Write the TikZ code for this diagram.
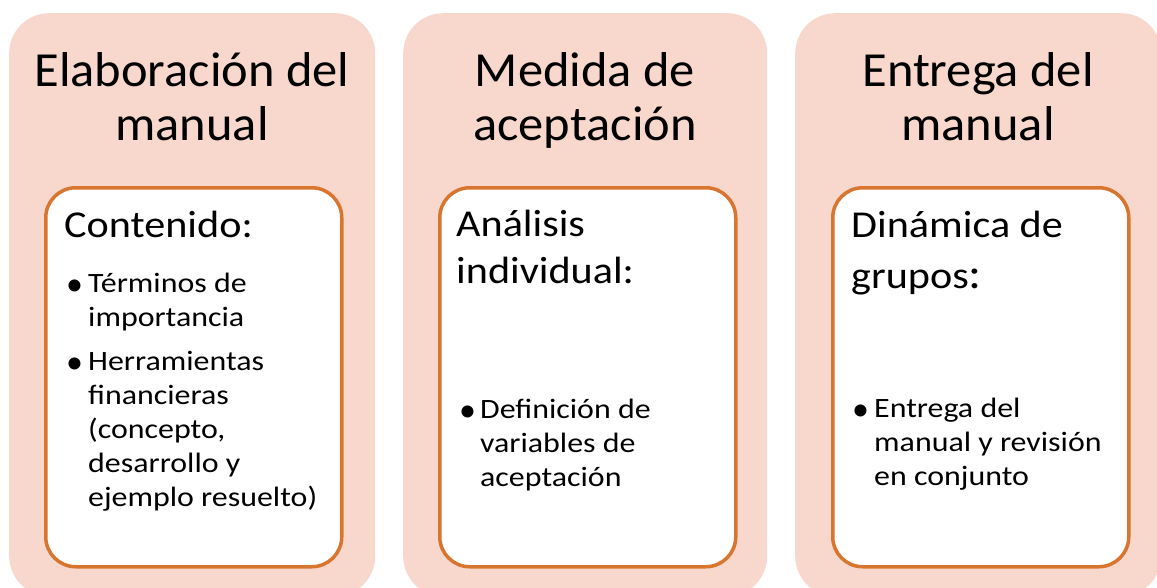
\documentclass[tikz,border=0pt]{standalone}
\usepackage{fontspec}
\setmainfont{Carlito}
\newfontfamily\titlefont[FakeStretch=1.03]{Carlito}
\newfontfamily\headfont[FakeStretch=1.11]{Carlito}
\newfontfamily\itemfont[FakeStretch=1.14]{Carlito}
\definecolor{pinkfill}{HTML}{F8D7CD}
\definecolor{orangeline}{HTML}{D8752F}
\tikzset{
  outerbox/.style={fill=pinkfill, draw=none, rounded corners=40pt, anchor=north west, inner sep=0pt},
  innerbox/.style={fill=white, draw=orangeline, line width=3.5pt, rounded corners=30pt, anchor=north west, inner sep=0pt, minimum width=296pt, minimum height=379pt},
  titletext/.style={anchor=base, inner sep=0pt, font=\titlefont\fontsize{49}{54}\selectfont},
  headtext/.style={anchor=base west, inner sep=0pt, font=\headfont\fontsize{38}{47}\selectfont},
  bullettext/.style={anchor=base west, inner sep=0pt, font=\itemfont\fontsize{28}{34}\selectfont},
  bulletdot/.style={anchor=base west, inner sep=0pt, font=\fontsize{34}{34}\selectfont},
}
\begin{document}
\begin{tikzpicture}[x=1pt,y=-1pt]
\useasboundingbox (0,0) rectangle (1157,587);
\clip (0,0) rectangle (1157,587);
% outer boxes
\node[outerbox, minimum width=366pt, minimum height=583pt] (o1) at (9,13) {};
\node[outerbox, minimum width=364pt, minimum height=583pt] (o2) at (403,13) {};
\node[outerbox, minimum width=366pt, minimum height=583pt] (o3) at (795,13) {};
% inner boxes
\node[innerbox] (i1) at (44,186) {};
\node[innerbox] (i2) at (438,186) {};
\node[innerbox] (i3) at (831,186) {};
% titles
\node[titletext] (t1) at (192,86) {\parbox[t]{360pt}{\centering Elaboración del\\manual}};
\node[titletext] (t2) at (585,86) {\parbox[t]{360pt}{\centering Medida de\\aceptación}};
\node[titletext] (t3) at (978,86) {\parbox[t]{360pt}{\centering Entrega del\\manual}};
% inner headings
\node[headtext] (h1) at (64,237) {\parbox[t]{280pt}{Contenido:}};
\node[headtext] (h2) at (456,236) {\parbox[t]{280pt}{Análisis\\individual:}};
\node[headtext] (h3) at (851,237) {\parbox[t]{280pt}{Dinámica de\\[4pt]grupos{\fontsize{44}{47}\selectfont:}}};
% bullets box 1
\node[bulletdot] (b1a) at (66,295) {•};
\node[bullettext] (l1a) at (88,292) {\parbox[t]{250pt}{Términos de\\importancia}};
\node[bulletdot] (b1b) at (66,373) {•};
\node[bullettext] (l1b) at (88,370) {\parbox[t]{250pt}{Herramientas\\financieras\\(concepto,\\desarrollo y\\ejemplo resuelto)}};
% bullets box 2
\node[bulletdot] (b2) at (459,421) {•};
\node[bullettext] (l2) at (480,418) {\parbox[t]{250pt}{Definición de\\variables de\\aceptación}};
% bullets box 3
\node[bulletdot] (b3) at (852,420) {•};
\node[bullettext] (l3) at (874,417) {\parbox[t]{250pt}{Entrega del\\manual y revisión\\en conjunto}};
\end{tikzpicture}
\end{document}
